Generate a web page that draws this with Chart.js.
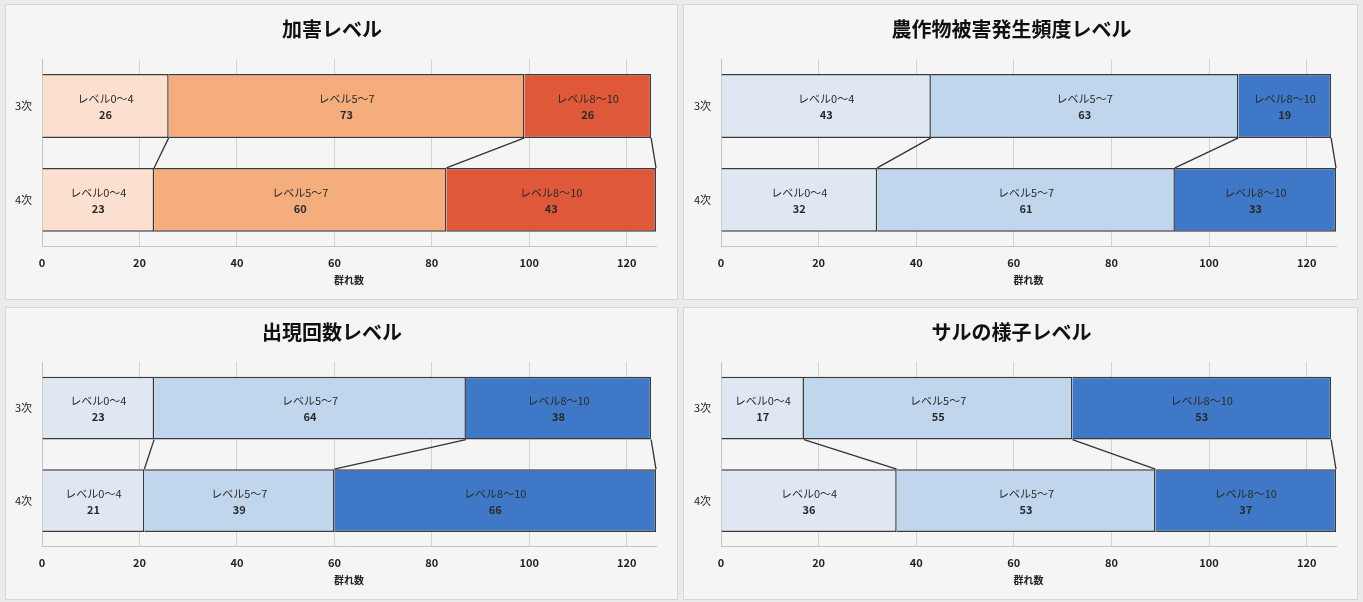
<!DOCTYPE html>
<html>
<head>
<meta charset="utf-8">
<script src="https://cdn.jsdelivr.net/npm/chart.js@4"></script>
<style>
    body { margin: 0; background: #ebebeb; width: 1363px; height: 602px; overflow: hidden; position: relative; }
    .panel { position: absolute; background: #f5f5f5; border: 1px solid #d6d6d6; box-sizing: border-box; }
    #p1 { left: 5px; top: 4px; width: 673px; height: 296px; }
    #p2 { left: 683px; top: 4px; width: 675px; height: 296px; }
    #p3 { left: 5px; top: 307px; width: 673px; height: 293px; }
    #p4 { left: 683px; top: 307px; width: 675px; height: 293px; }
</style>
</head>
<body>
<div class="panel" id="p1"><canvas id="kagai"></canvas></div>
<div class="panel" id="p2"><canvas id="higai"></canvas></div>
<div class="panel" id="p3"><canvas id="shutsugen"></canvas></div>
<div class="panel" id="p4"><canvas id="saru"></canvas></div>
<script>
// categories and level names
const categories = ['3次', '4次'];
const levelLabels = ['レベル0～4', 'レベル5～7', 'レベル8～10'];
const xTicks = [0, 20, 40, 60, 80, 100, 120];

// 加害レベル
const kagaiLow = [26, 23];
const kagaiMid = [73, 60];
const kagaiHigh = [26, 43];

// 農作物被害発生頻度レベル
const higaiLow = [43, 32];
const higaiMid = [63, 61];
const higaiHigh = [19, 33];

// 出現回数レベル
const shutsugenLow = [23, 21];
const shutsugenMid = [64, 39];
const shutsugenHigh = [38, 66];

// サルの様子レベル
const saruLow = [17, 36];
const saruMid = [55, 53];
const saruHigh = [53, 37];

const orangeColors = ['#fbe0cf', '#f6ad7e', '#e0583a'];
const blueColors = ['#dfe8f2', '#bfd6ed', '#3f78c6'];

const jpFont = "'Noto Sans CJK JP', 'Noto Sans', sans-serif";

// lines joining the segment ends of 3次 and 4次
const seriesLines = {
    id: 'seriesLines',
    afterDatasetsDraw(chart) {
        const ctx = chart.ctx;
        ctx.save();
        ctx.strokeStyle = '#333';
        ctx.lineWidth = 1.3;
        chart.data.datasets.forEach((ds, i) => {
            const meta = chart.getDatasetMeta(i);
            const a = meta.data[0].getProps(['x', 'y', 'height'], true);
            const b = meta.data[1].getProps(['x', 'y', 'height'], true);
            ctx.beginPath();
            ctx.moveTo(a.x, a.y + a.height / 2);
            ctx.lineTo(b.x, b.y - b.height / 2);
            ctx.stroke();
        });
        ctx.restore();
    }
};

// level name + value inside each segment
const segmentLabels = {
    id: 'segmentLabels',
    afterDatasetsDraw(chart) {
        const ctx = chart.ctx;
        ctx.save();
        ctx.textAlign = 'center';
        ctx.textBaseline = 'middle';
        ctx.fillStyle = '#2a2a2a';
        chart.data.datasets.forEach((ds, i) => {
            const meta = chart.getDatasetMeta(i);
            meta.data.forEach((bar, j) => {
                const p = bar.getProps(['x', 'y', 'base'], true);
                const cx = (p.x + p.base) / 2;
                ctx.font = '11px ' + jpFont;
                ctx.fillText(ds.label, cx, p.y - 7);
                ctx.font = 'bold 11px ' + jpFont;
                ctx.fillText(String(ds.data[j]), cx, p.y + 9);
            });
        });
        ctx.restore();
    }
};

function makeChart(id, title, low, mid, high, colors, padLeft) {
    const series = [low, mid, high];
    new Chart(document.getElementById(id), {
        type: 'bar',
        data: {
            labels: categories,
            datasets: series.map((d, i) => ({
                label: levelLabels[i],
                data: d,
                backgroundColor: colors[i],
                borderColor: '#3a3a3a',
                borderWidth: 1.5,
                barPercentage: 0.68,
                categoryPercentage: 1
            }))
        },
        options: {
            indexAxis: 'y',
            responsive: true,
            maintainAspectRatio: false,
            animation: false,
            layout: { padding: { left: padLeft, right: 21, top: 0, bottom: 13 } },
            plugins: {
                legend: { display: false },
                tooltip: { enabled: false },
                title: {
                    display: true,
                    text: title,
                    color: '#111',
                    font: { family: jpFont, size: 20, weight: 'bold' },
                    padding: { top: 12, bottom: 18 }
                }
            },
            scales: {
                x: {
                    stacked: true,
                    min: 0,
                    max: 126,
                    afterBuildTicks: (scale) => {
                        scale.ticks = xTicks.map(v => ({ value: v }));
                    },
                    grid: { color: '#d3d3d3', drawTicks: false },
                    border: { color: '#c4c4c4' },
                    ticks: {
                        padding: 9,
                        color: '#222',
                        font: { family: jpFont, size: 11, weight: 'bold' }
                    },
                    title: {
                        display: true,
                        text: '群れ数',
                        color: '#222',
                        font: { family: jpFont, size: 10, weight: 'bold' },
                        padding: { top: -4, bottom: 0 }
                    }
                },
                y: {
                    stacked: true,
                    afterFit: (scale) => { scale.width = 34; },
                    grid: { display: false },
                    border: { color: '#c4c4c4' },
                    ticks: {
                        padding: 2,
                        color: '#222',
                        font: { family: jpFont, size: 11 }
                    }
                }
            }
        },
        plugins: [seriesLines, segmentLabels]
    });
}

makeChart('kagai', '加害レベル', kagaiLow, kagaiMid, kagaiHigh, orangeColors, 2);
makeChart('higai', '農作物被害発生頻度レベル', higaiLow, higaiMid, higaiHigh, blueColors, 3);
makeChart('shutsugen', '出現回数レベル', shutsugenLow, shutsugenMid, shutsugenHigh, blueColors, 2);
makeChart('saru', 'サルの様子レベル', saruLow, saruMid, saruHigh, blueColors, 3);
</script>
</body>
</html>
